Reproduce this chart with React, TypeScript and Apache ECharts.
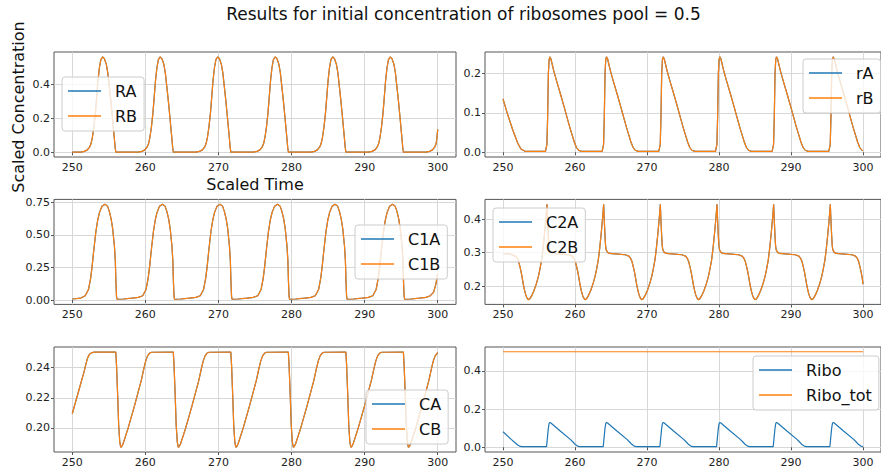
import React, { useEffect, useRef } from "react";
import * as echarts from "echarts";

// ---------- data (time, scaled concentration) ----------
const RA_DATA: number[][] = [
  [250,0.001],[251.16,0.001],[251.66,0.005],[252.06,0.014],[252.36,0.03],[252.56,0.05],[252.76,0.09],[252.96,0.15],[253.16,0.23],[253.31,0.31],[253.51,0.42],[253.71,0.5],[253.91,0.548],[254.16,0.565],[254.41,0.552],[254.66,0.52],[254.86,0.47],[255.06,0.39],[255.26,0.31],[255.46,0.22],[255.61,0.15],[255.76,0.08],[255.86,0.03],[255.96,0],
  [259.03,0.001],[259.53,0.005],[259.93,0.014],[260.23,0.03],[260.43,0.05],[260.63,0.09],[260.83,0.15],[261.03,0.23],[261.18,0.31],[261.38,0.42],[261.58,0.5],[261.78,0.548],[262.03,0.565],[262.28,0.552],[262.53,0.52],[262.73,0.47],[262.93,0.39],[263.13,0.31],[263.33,0.22],[263.48,0.15],[263.63,0.08],[263.73,0.03],[263.83,0],
  [266.9,0.001],[267.4,0.005],[267.8,0.014],[268.1,0.03],[268.3,0.05],[268.5,0.09],[268.7,0.15],[268.9,0.23],[269.05,0.31],[269.25,0.42],[269.45,0.5],[269.65,0.548],[269.9,0.565],[270.15,0.552],[270.4,0.52],[270.6,0.47],[270.8,0.39],[271.0,0.31],[271.2,0.22],[271.35,0.15],[271.5,0.08],[271.6,0.03],[271.7,0],
  [274.77,0.001],[275.27,0.005],[275.67,0.014],[275.97,0.03],[276.17,0.05],[276.37,0.09],[276.57,0.15],[276.77,0.23],[276.92,0.31],[277.12,0.42],[277.32,0.5],[277.52,0.548],[277.77,0.565],[278.02,0.552],[278.27,0.52],[278.47,0.47],[278.67,0.39],[278.87,0.31],[279.07,0.22],[279.22,0.15],[279.37,0.08],[279.47,0.03],[279.57,0],
  [282.64,0.001],[283.14,0.005],[283.54,0.014],[283.84,0.03],[284.04,0.05],[284.24,0.09],[284.44,0.15],[284.64,0.23],[284.79,0.31],[284.99,0.42],[285.19,0.5],[285.39,0.548],[285.64,0.565],[285.89,0.552],[286.14,0.52],[286.34,0.47],[286.54,0.39],[286.74,0.31],[286.94,0.22],[287.09,0.15],[287.24,0.08],[287.34,0.03],[287.44,0],
  [290.51,0.001],[291.01,0.005],[291.41,0.014],[291.71,0.03],[291.91,0.05],[292.11,0.09],[292.31,0.15],[292.51,0.23],[292.66,0.31],[292.86,0.42],[293.06,0.5],[293.26,0.548],[293.51,0.565],[293.76,0.552],[294.01,0.52],[294.21,0.47],[294.41,0.39],[294.61,0.31],[294.81,0.22],[294.96,0.15],[295.11,0.08],[295.21,0.03],[295.31,0],
  [298.38,0.001],[298.88,0.005],[299.28,0.014],[299.58,0.03],[299.78,0.05],[299.9,0.09],[300,0.135],
];

const RSMALL_DATA: number[][] = [
  [250,0.136],[250.68,0.094],[251.37,0.056],[252.05,0.023],[252.5,0.008],[253,0.003],[253.4,0.002],
  [255.9,0.002],[256.1,0.02],[256.2,0.09],[256.3,0.2],[256.4,0.235],[256.5,0.243],[256.65,0.238],[257.05,0.207],[257.5,0.178],[258.0,0.147],[258.5,0.115],[258.9,0.088],[259.3,0.062],[259.6,0.044],[259.9,0.026],[260.2,0.012],[260.5,0.005],[260.9,0.002],
  [263.77,0.002],[263.97,0.02],[264.07,0.09],[264.17,0.2],[264.27,0.235],[264.37,0.243],[264.52,0.238],[264.92,0.207],[265.37,0.178],[265.87,0.147],[266.37,0.115],[266.77,0.088],[267.17,0.062],[267.47,0.044],[267.77,0.026],[268.07,0.012],[268.37,0.005],[268.77,0.002],
  [271.64,0.002],[271.84,0.02],[271.94,0.09],[272.04,0.2],[272.14,0.235],[272.24,0.243],[272.39,0.238],[272.79,0.207],[273.24,0.178],[273.74,0.147],[274.24,0.115],[274.64,0.088],[275.04,0.062],[275.34,0.044],[275.64,0.026],[275.94,0.012],[276.24,0.005],[276.64,0.002],
  [279.51,0.002],[279.71,0.02],[279.81,0.09],[279.91,0.2],[280.01,0.235],[280.11,0.243],[280.26,0.238],[280.66,0.207],[281.11,0.178],[281.61,0.147],[282.11,0.115],[282.51,0.088],[282.91,0.062],[283.21,0.044],[283.51,0.026],[283.81,0.012],[284.11,0.005],[284.51,0.002],
  [287.38,0.002],[287.58,0.02],[287.68,0.09],[287.78,0.2],[287.88,0.235],[287.98,0.243],[288.13,0.238],[288.53,0.207],[288.98,0.178],[289.48,0.147],[289.98,0.115],[290.38,0.088],[290.78,0.062],[291.08,0.044],[291.38,0.026],[291.68,0.012],[291.98,0.005],[292.38,0.002],
  [295.25,0.002],[295.45,0.02],[295.55,0.09],[295.65,0.2],[295.75,0.235],[295.85,0.243],[296.0,0.238],[296.4,0.207],[296.85,0.178],[297.35,0.147],[297.85,0.115],[298.25,0.088],[298.65,0.062],[298.95,0.044],[299.25,0.026],[299.55,0.012],[299.85,0.005],[300,0.004],
];

const C1_DATA: number[][] = [
  [250,0.008],[251.17,0.015],[251.77,0.033],[252.22,0.08],[252.52,0.17],[252.72,0.26],[252.92,0.37],[253.22,0.52],[253.47,0.61],[253.72,0.67],[254.07,0.72],[254.47,0.735],[254.82,0.72],[255.07,0.68],[255.32,0.62],[255.52,0.55],[255.77,0.41],[255.89,0.3],[255.97,0.14],[256.05,0.03],[256.12,0.006],[256.97,0.008],[258.17,0.014],
  [259.04,0.02],[259.64,0.033],[260.09,0.08],[260.39,0.17],[260.59,0.26],[260.79,0.37],[261.09,0.52],[261.34,0.61],[261.59,0.67],[261.94,0.72],[262.34,0.735],[262.69,0.72],[262.94,0.68],[263.19,0.62],[263.39,0.55],[263.64,0.41],[263.76,0.3],[263.84,0.14],[263.92,0.03],[263.99,0.006],[264.84,0.008],[266.04,0.014],
  [266.91,0.02],[267.51,0.033],[267.96,0.08],[268.26,0.17],[268.46,0.26],[268.66,0.37],[268.96,0.52],[269.21,0.61],[269.46,0.67],[269.81,0.72],[270.21,0.735],[270.56,0.72],[270.81,0.68],[271.06,0.62],[271.26,0.55],[271.51,0.41],[271.63,0.3],[271.71,0.14],[271.79,0.03],[271.86,0.006],[272.71,0.008],[273.91,0.014],
  [274.78,0.02],[275.38,0.033],[275.83,0.08],[276.13,0.17],[276.33,0.26],[276.53,0.37],[276.83,0.52],[277.08,0.61],[277.33,0.67],[277.68,0.72],[278.08,0.735],[278.43,0.72],[278.68,0.68],[278.93,0.62],[279.13,0.55],[279.38,0.41],[279.5,0.3],[279.58,0.14],[279.66,0.03],[279.73,0.006],[280.58,0.008],[281.78,0.014],
  [282.65,0.02],[283.25,0.033],[283.7,0.08],[284.0,0.17],[284.2,0.26],[284.4,0.37],[284.7,0.52],[284.95,0.61],[285.2,0.67],[285.55,0.72],[285.95,0.735],[286.3,0.72],[286.55,0.68],[286.8,0.62],[287.0,0.55],[287.25,0.41],[287.37,0.3],[287.45,0.14],[287.53,0.03],[287.6,0.006],[288.45,0.008],[289.65,0.014],
  [290.52,0.02],[291.12,0.033],[291.57,0.08],[291.87,0.17],[292.07,0.26],[292.27,0.37],[292.57,0.52],[292.82,0.61],[293.07,0.67],[293.42,0.72],[293.82,0.735],[294.17,0.72],[294.42,0.68],[294.67,0.62],[294.87,0.55],[295.12,0.41],[295.24,0.3],[295.32,0.14],[295.4,0.03],[295.47,0.006],[296.32,0.008],[297.52,0.014],
  [298.39,0.02],[298.99,0.033],[299.44,0.06],[299.74,0.12],[300,0.2],
];

const C2_DATA: number[][] = [
  [250,0.297],[251.0,0.296],[251.74,0.29],[251.99,0.283],[252.16,0.275],[252.36,0.258],[252.51,0.244],[252.68,0.224],[252.84,0.204],[253.01,0.187],[253.16,0.175],[253.33,0.166],[253.51,0.161],[253.71,0.163],[253.97,0.172],[254.31,0.188],[254.65,0.209],[254.91,0.229],[255.11,0.249],[255.36,0.278],[255.56,0.313],[255.76,0.355],[255.88,0.383],[256.01,0.415],[256.11,0.444],[256.19,0.4],[256.29,0.353],[256.38,0.32],[256.47,0.308],[256.66,0.301],[256.93,0.298],[258.11,0.296],[259.11,0.294],
  [259.61,0.29],[259.86,0.283],[260.03,0.275],[260.23,0.258],[260.38,0.244],[260.55,0.224],[260.71,0.204],[260.88,0.187],[261.03,0.175],[261.2,0.166],[261.38,0.161],[261.58,0.163],[261.84,0.172],[262.18,0.188],[262.52,0.209],[262.78,0.229],[262.98,0.249],[263.23,0.278],[263.43,0.313],[263.63,0.355],[263.75,0.383],[263.88,0.415],[263.98,0.444],[264.06,0.4],[264.16,0.353],[264.25,0.32],[264.34,0.308],[264.53,0.301],[264.8,0.298],[265.98,0.296],[266.98,0.294],
  [267.48,0.29],[267.73,0.283],[267.9,0.275],[268.1,0.258],[268.25,0.244],[268.42,0.224],[268.58,0.204],[268.75,0.187],[268.9,0.175],[269.07,0.166],[269.25,0.161],[269.45,0.163],[269.71,0.172],[270.05,0.188],[270.39,0.209],[270.65,0.229],[270.85,0.249],[271.1,0.278],[271.3,0.313],[271.5,0.355],[271.62,0.383],[271.75,0.415],[271.85,0.444],[271.93,0.4],[272.03,0.353],[272.12,0.32],[272.21,0.308],[272.4,0.301],[272.67,0.298],[273.85,0.296],[274.85,0.294],
  [275.35,0.29],[275.6,0.283],[275.77,0.275],[275.97,0.258],[276.12,0.244],[276.29,0.224],[276.45,0.204],[276.62,0.187],[276.77,0.175],[276.94,0.166],[277.12,0.161],[277.32,0.163],[277.58,0.172],[277.92,0.188],[278.26,0.209],[278.52,0.229],[278.72,0.249],[278.97,0.278],[279.17,0.313],[279.37,0.355],[279.49,0.383],[279.62,0.415],[279.72,0.444],[279.8,0.4],[279.9,0.353],[279.99,0.32],[280.08,0.308],[280.27,0.301],[280.54,0.298],[281.72,0.296],[282.72,0.294],
  [283.22,0.29],[283.47,0.283],[283.64,0.275],[283.84,0.258],[283.99,0.244],[284.16,0.224],[284.32,0.204],[284.49,0.187],[284.64,0.175],[284.81,0.166],[284.99,0.161],[285.19,0.163],[285.45,0.172],[285.79,0.188],[286.13,0.209],[286.39,0.229],[286.59,0.249],[286.84,0.278],[287.04,0.313],[287.24,0.355],[287.36,0.383],[287.49,0.415],[287.59,0.444],[287.67,0.4],[287.77,0.353],[287.86,0.32],[287.95,0.308],[288.14,0.301],[288.41,0.298],[289.59,0.296],[290.59,0.294],
  [291.09,0.29],[291.34,0.283],[291.51,0.275],[291.71,0.258],[291.86,0.244],[292.03,0.224],[292.19,0.204],[292.36,0.187],[292.51,0.175],[292.68,0.166],[292.86,0.161],[293.06,0.163],[293.32,0.172],[293.66,0.188],[294.0,0.209],[294.26,0.229],[294.46,0.249],[294.71,0.278],[294.91,0.313],[295.11,0.355],[295.23,0.383],[295.36,0.415],[295.46,0.444],[295.54,0.4],[295.64,0.353],[295.73,0.32],[295.82,0.308],[296.01,0.301],[296.28,0.298],[297.46,0.296],[298.46,0.294],
  [298.96,0.29],[299.21,0.283],[299.38,0.275],[299.58,0.258],[299.73,0.244],[299.9,0.224],[300,0.207],
];

const C_DATA: number[][] = [
  [250,0.2094],[250.96,0.226],[251.6,0.237],[251.87,0.2425],[252.1,0.2465],[252.35,0.2488],[252.6,0.2498],[253.0,0.2503],
  [255.95,0.2503],[256.05,0.242],[256.21,0.2217],[256.35,0.2016],[256.5,0.1905],[256.63,0.1872],[256.75,0.1875],[256.95,0.1895],[257.62,0.1995],[258.53,0.215],[259.45,0.2317],[259.8,0.2395],[260.05,0.2445],[260.3,0.2478],[260.55,0.2495],[260.85,0.2502],
  [263.82,0.2503],[263.92,0.242],[264.08,0.2217],[264.22,0.2016],[264.37,0.1905],[264.5,0.1872],[264.62,0.1875],[264.82,0.1895],[265.49,0.1995],[266.4,0.215],[267.32,0.2317],[267.67,0.2395],[267.92,0.2445],[268.17,0.2478],[268.42,0.2495],[268.72,0.2502],
  [271.69,0.2503],[271.79,0.242],[271.95,0.2217],[272.09,0.2016],[272.24,0.1905],[272.37,0.1872],[272.49,0.1875],[272.69,0.1895],[273.36,0.1995],[274.27,0.215],[275.19,0.2317],[275.54,0.2395],[275.79,0.2445],[276.04,0.2478],[276.29,0.2495],[276.59,0.2502],
  [279.56,0.2503],[279.66,0.242],[279.82,0.2217],[279.96,0.2016],[280.11,0.1905],[280.24,0.1872],[280.36,0.1875],[280.56,0.1895],[281.23,0.1995],[282.14,0.215],[283.06,0.2317],[283.41,0.2395],[283.66,0.2445],[283.91,0.2478],[284.16,0.2495],[284.46,0.2502],
  [287.43,0.2503],[287.53,0.242],[287.69,0.2217],[287.83,0.2016],[287.98,0.1905],[288.11,0.1872],[288.23,0.1875],[288.43,0.1895],[289.1,0.1995],[290.01,0.215],[290.93,0.2317],[291.28,0.2395],[291.53,0.2445],[291.78,0.2478],[292.03,0.2495],[292.33,0.2502],
  [295.3,0.2503],[295.4,0.242],[295.56,0.2217],[295.7,0.2016],[295.85,0.1905],[295.98,0.1872],[296.1,0.1875],[296.3,0.1895],[296.97,0.1995],[297.88,0.215],[298.8,0.2317],[299.15,0.2395],[299.4,0.2445],[299.65,0.2478],[299.9,0.2495],[300,0.2498],
];

const RIBO_DATA: number[][] = [
  [250,0.081],[251.14,0.041],[251.6,0.026],[252.05,0.012],[252.3,0.006],[252.6,0.003],
  [256.05,0.003],[256.17,0.05],[256.3,0.1],[256.4,0.124],[256.5,0.13],[256.65,0.127],[257.95,0.085],[259.35,0.041],[259.75,0.026],[260.05,0.014],[260.35,0.006],[260.65,0.003],
  [263.92,0.003],[264.04,0.05],[264.17,0.1],[264.27,0.124],[264.37,0.13],[264.52,0.127],[265.82,0.085],[267.22,0.041],[267.62,0.026],[267.92,0.014],[268.22,0.006],[268.52,0.003],
  [271.79,0.003],[271.91,0.05],[272.04,0.1],[272.14,0.124],[272.24,0.13],[272.39,0.127],[273.69,0.085],[275.09,0.041],[275.49,0.026],[275.79,0.014],[276.09,0.006],[276.39,0.003],
  [279.66,0.003],[279.78,0.05],[279.91,0.1],[280.01,0.124],[280.11,0.13],[280.26,0.127],[281.56,0.085],[282.96,0.041],[283.36,0.026],[283.66,0.014],[283.96,0.006],[284.26,0.003],
  [287.53,0.003],[287.65,0.05],[287.78,0.1],[287.88,0.124],[287.98,0.13],[288.13,0.127],[289.43,0.085],[290.83,0.041],[291.23,0.026],[291.53,0.014],[291.83,0.006],[292.13,0.003],
  [295.4,0.003],[295.52,0.05],[295.65,0.1],[295.75,0.124],[295.85,0.13],[296.0,0.127],[297.3,0.085],[298.7,0.041],[299.1,0.026],[299.4,0.014],[299.7,0.006],[300,0.003],
];

const RIBO_TOT_DATA: number[][] = [[250, 0.5], [300, 0.5]];

const X_TICKS_STEP = 10;
const TITLE = "Results for initial concentration of ribosomes pool = 0.5";
const Y_LABEL = "Scaled Concentration";
const X_LABEL = "Scaled Time";

// ---------- layout / styling ----------
const BLUE = "#1f77b4";
const ORANGE = "#ff7f0e";
const FONT = "DejaVu Sans";

type Panel = {
  left: number; top: number; width: number;
  ymin: number; ymax: number; yStep: number; yDec: number;
  series: [string, number[][], string][];
  legendLeft: number; legendTop: number;
};

const PANELS: Panel[] = [
  { left: 54, top: 52, width: 402, ymin: -0.0283, ymax: 0.5933, yStep: 0.2, yDec: 1,
    series: [["RA", RA_DATA, BLUE], ["RB", RA_DATA, ORANGE]], legendLeft: 62, legendTop: 77 },
  { left: 485, top: 52, width: 402, ymin: -0.0122, ymax: 0.2552, yStep: 0.1, yDec: 1,
    series: [["rA", RSMALL_DATA, BLUE], ["rB", RSMALL_DATA, ORANGE]], legendLeft: 803, legendTop: 59 },
  { left: 54, top: 199.4, width: 402, ymin: -0.0336, ymax: 0.7716, yStep: 0.25, yDec: 2,
    series: [["C1A", C1_DATA, BLUE], ["C1B", C1_DATA, ORANGE]], legendLeft: 355, legendTop: 225 },
  { left: 485, top: 199.4, width: 402, ymin: 0.1468, ymax: 0.4582, yStep: 0.1, yDec: 1,
    series: [["C2A", C2_DATA, BLUE], ["C2B", C2_DATA, ORANGE]], legendLeft: 493, legendTop: 208 },
  { left: 54, top: 347, width: 402, ymin: 0.184, ymax: 0.2537, yStep: 0.02, yDec: 2,
    series: [["CA", C_DATA, BLUE], ["CB", C_DATA, ORANGE]], legendLeft: 366, legendTop: 390 },
  { left: 485, top: 347, width: 402, ymin: -0.025, ymax: 0.525, yStep: 0.2, yDec: 1,
    series: [["Ribo", RIBO_DATA, BLUE], ["Ribo_tot", RIBO_TOT_DATA, ORANGE]], legendLeft: 753, legendTop: 356 },
];

const onStep = (v: number, step: number) => {
  const k = v / step;
  return Math.abs(k - Math.round(k)) < 1e-6;
};

export default function App() {
  const ref = useRef<HTMLDivElement>(null);
  useEffect(() => {
    if (!ref.current) return;
    const chart = echarts.init(ref.current, undefined, { renderer: "svg" });

    const grid: any[] = [];
    const xAxis: any[] = [];
    const yAxis: any[] = [];
    const series: any[] = [];
    const legend: any[] = [];

    PANELS.forEach((p, i) => {
      grid.push({
        left: p.left, top: p.top, width: p.width, height: 105,
        show: true, borderColor: "#555", borderWidth: 1, backgroundColor: "transparent",
      });
      xAxis.push({
        type: "value", gridIndex: i, min: 247.5, max: 302.5,
        minInterval: X_TICKS_STEP, maxInterval: X_TICKS_STEP,
        axisLine: { show: false },
        axisTick: { show: true, length: 3, lineStyle: { color: "#555" } },
        axisLabel: {
          color: "#222", fontSize: 11, fontFamily: FONT, margin: 5,
          showMinLabel: false, showMaxLabel: false,
          formatter: (v: number) => (onStep(v, X_TICKS_STEP) ? String(Math.round(v)) : ""),
        },
        splitLine: { show: true, showMinLine: false, showMaxLine: false, lineStyle: { color: "#d4d4d4", width: 0.9 } },
      });
      yAxis.push({
        type: "value", gridIndex: i, min: p.ymin, max: p.ymax,
        minInterval: p.yStep, maxInterval: p.yStep,
        axisLine: { show: false },
        axisTick: { show: true, length: 3, lineStyle: { color: "#555" } },
        axisLabel: {
          color: "#222", fontSize: 11, fontFamily: FONT, margin: 4,
          showMinLabel: false, showMaxLabel: false,
          formatter: (v: number) => (onStep(v, p.yStep) ? v.toFixed(p.yDec) : ""),
        },
        splitLine: { show: true, showMinLine: false, showMaxLine: false, lineStyle: { color: "#d4d4d4", width: 0.9 } },
      });
      p.series.forEach(([name, data, color]) => {
        series.push({
          type: "line", name, data, xAxisIndex: i, yAxisIndex: i,
          showSymbol: false, symbol: "none", clip: true,
          lineStyle: { color, width: 1.2 }, itemStyle: { color },
          emphasis: { disabled: true },
        });
      });
      legend.push({
        data: p.series.map((s) => s[0]),
        left: p.legendLeft, top: p.legendTop, orient: "vertical",
        icon: "rect", itemWidth: 33, itemHeight: 1.6, itemGap: 7,
        padding: [5, 7, 6, 6],
        backgroundColor: "rgba(255,255,255,0.8)", borderColor: "#cccccc", borderWidth: 1, borderRadius: 3,
        selectedMode: false,
        textStyle: { fontSize: 16, fontFamily: FONT, color: "#111", lineHeight: 18, padding: [0, 0, 0, 9] },
      });
    });

    chart.setOption({
      animation: false,
      backgroundColor: "#ffffff",
      grid, xAxis, yAxis, series, legend,
      graphic: [
        { type: "text", x: 463.5, y: 14, style: { text: TITLE, fontSize: 17, fontFamily: FONT, fill: "#111", align: "center", verticalAlign: "middle" } },
        { type: "text", x: 255, y: 184, style: { text: X_LABEL, fontSize: 16, fontFamily: FONT, fill: "#111", align: "center", verticalAlign: "middle" } },
        { type: "text", x: 18, y: 107, rotation: Math.PI / 2, style: { text: Y_LABEL, fontSize: 16, fontFamily: FONT, fill: "#111", align: "center", verticalAlign: "middle" } },
      ],
    });
    return () => chart.dispose();
  }, []);
  return <div ref={ref} style={{ position: "fixed", left: 0, top: 0, width: 881, height: 472 }} />;
}
